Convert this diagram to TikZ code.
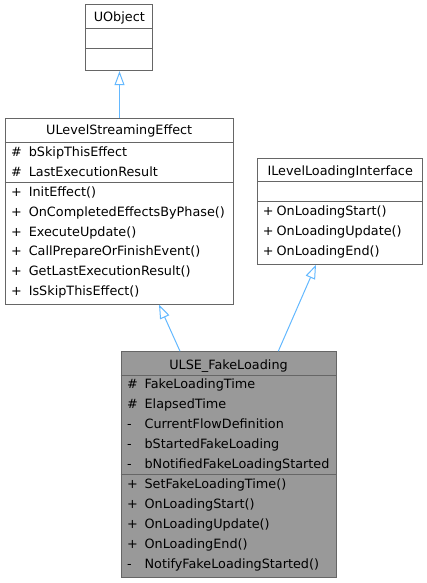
\documentclass[tikz,border=0pt]{standalone}
\usepackage{fontspec}
\setmainfont{DejaVu Sans}
\usetikzlibrary{positioning, arrows.meta}

\definecolor{edgeblue}{HTML}{63B8FF}
\definecolor{boxline}{HTML}{666666}
\definecolor{boxfill}{HTML}{999999}

\begin{document}
\begin{tikzpicture}[x=1pt, y=-1pt,
    every node/.style={font=\fontsize{12.8}{15}\selectfont, inner sep=0pt},
    classbox/.style={draw=boxline, line width=1pt, fill=white},
    sepline/.style={draw=boxline, line width=1pt},
    member/.style={anchor=base west},
    title/.style={anchor=base},
    inherit/.style={draw=edgeblue, line width=1pt, -{Triangle[open, length=14pt, width=10pt]}}]
    \useasboundingbox (0,0) rectangle (426,583);

    % Draw class boxes
    \node[classbox, minimum width=66.7pt, minimum height=65.7pt] (uobject) at (119.3,37.8) {};
    \node[classbox, minimum width=228.3pt, minimum height=185.7pt] (lse) at (119.2,211.2) {};
    \node[classbox, minimum width=165pt, minimum height=106pt] (iface) at (340.2,211.3) {};
    \node[classbox, fill=boxfill, minimum width=215pt, minimum height=225.6pt] (fake) at (228.5,464.5) {};

    % Draw compartment lines
    \foreach \b/\y in {uobject/28.3, uobject/49, lse/142.7, lse/182, iface/181.7, iface/201.7, fake/375, fake/474} {
      \draw[sepline] (\b.west |- 0,\y) -- (\b.east |- 0,\y);
    }

    % Class names
    \node[title] (uobject-t) at (uobject.center |- 0,21.7) {UObject};
    \node[title] (lse-t) at (lse.center |- 0,135) {ULevelStreamingEffect};
    \node[title] (iface-t) at (iface.center |- 0,175.7) {ILevelLoadingInterface};
    \node[title] (fake-t) at (fake.center |- 0,369) {ULSE\_FakeLoading};

    % ULevelStreamingEffect members
    \foreach \i/\s/\t/\y in {1/\#/bSkipThisEffect/156, 2/\#/LastExecutionResult/176,
        3/+/InitEffect()/196, 4/+/OnCompletedEffectsByPhase()/216, 5/+/ExecuteUpdate()/236,
        6/+/CallPrepareOrFinishEvent()/255.5, 7/+/GetLastExecutionResult()/275.5, 8/+/IsSkipThisEffect()/295.5} {
      \node[member] (lse-s\i) at (11,\y) {\s};
      \node[member] (lse-m\i) at (28.6,\y) {\t};
    }

    % ILevelLoadingInterface members
    \foreach \i/\t/\y in {1/OnLoadingStart()/215.7, 2/OnLoadingUpdate()/235.7, 3/OnLoadingEnd()/255.7} {
      \node[member] (iface-s\i) at (262.6,\y) {+};
      \node[member] (iface-m\i) at (276.4,\y) {\t};
    }

    % ULSE_FakeLoading members
    \foreach \i/\s/\t/\y in {1/\#/FakeLoadingTime/388.7, 2/\#/ElapsedTime/408.7,
        3/-/CurrentFlowDefinition/428.7, 4/-/bStartedFakeLoading/448.7, 5/-/bNotifiedFakeLoadingStarted/468.7,
        6/+/SetFakeLoadingTime()/488.3, 7/+/OnLoadingStart()/508.3, 8/+/OnLoadingUpdate()/528.3,
        9/+/OnLoadingEnd()/548.3, 10/-/NotifyFakeLoadingStarted()/568.3} {
      \node[member] (fake-s\i) at (126.8,\y) {\s};
      \node[member] (fake-m\i) at (144.4,\y) {\t};
    }

    % Inheritance arrows
    \draw[inherit] ([xshift=0.3pt]lse.north) -- ([xshift=0.3pt]lse.north |- uobject.south);
    \draw[inherit] ([xshift=-48.5pt]fake.north) -- ([xshift=39.8pt]lse.south);
    \draw[inherit] ([xshift=49.8pt]fake.north) -- ([xshift=-24.2pt]iface.south);

  \end{tikzpicture}
\end{document}
